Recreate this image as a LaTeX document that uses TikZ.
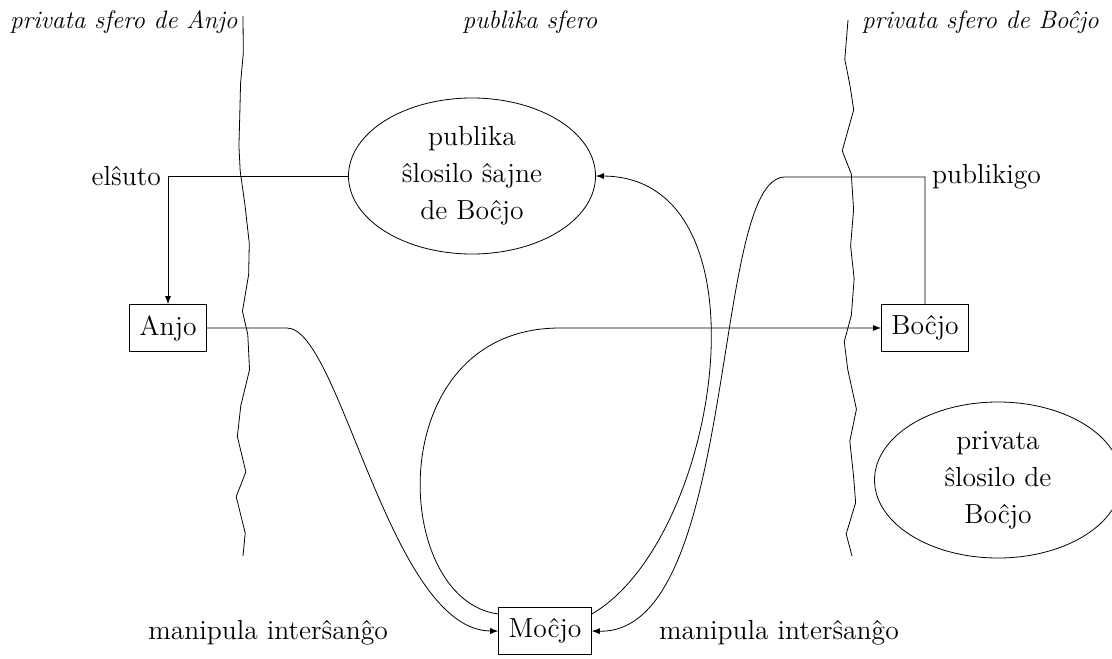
\documentclass[tikz,border=0pt]{standalone}
\usetikzlibrary{positioning}
\usetikzlibrary{arrows}
\usetikzlibrary{shapes.geometric}
\usetikzlibrary{decorations.pathmorphing}
\newcommand{\keyfont}{\fontsize{13.8}{18.5}\selectfont}
\newcommand{\spherefont}{\fontsize{12.6}{15}\selectfont\itshape}
\tikzset{
person/.style={draw,rectangle,inner xsep=5pt,minimum height=23.5pt,font=\keyfont},
keynode/.style={draw,ellipse,align=center,inner sep=0pt,minimum width=123.5pt,minimum height=78pt,font=\keyfont},
sphere/.style={font=\spherefont},
border/.style={decorate,decoration={random steps,segment length=16pt,amplitude=4pt}},
}

\begin{document}
\begin{tikzpicture}[x=0.5pt,y=-0.5pt,>=latex]
\tikzstyle{lbl}=[font=\keyfont]
\useasboundingbox (0,0) rectangle (1112,658);
%Place the nodes
\node[person] (Anjo) at (168,328) {Anjo};
\node[person] (Bocjo) at (925,328) {Boĉjo};
\node[person] (Mocjo) at (545,631) {Moĉjo};
\node[keynode] (pub) at (472,176) {publika\\ŝlosilo ŝajne\\de Boĉjo};
\node[keynode] (priv) at (998,480) {privata\\ŝlosilo de\\Boĉjo};

%The spheres
\node[sphere,anchor=west] (sA) at (3,22) {privata sfero de Anjo};
\node[sphere] (sP) at (530,22) {publika sfero};
\node[sphere,anchor=west] (sB) at (855,22) {privata sfero de Boĉjo};

\coordinate (lt) at (243,16);
\coordinate (lb) at (243,556);
\coordinate (rt) at (848,20);
\coordinate (rb) at (852,556);
\pgfmathsetseed{11}
\draw[border] (lt) -- (lb);
\draw[border] (rt) -- (rb);

%
\draw[->] (pub.west) -| node[pos=0.5,left,lbl] {elŝuto} (Anjo.north);
\draw[->] (Bocjo.north) |- node[pos=0.5,right,lbl] {publikigo} (785,177)
  .. controls (710,177) and (740,635) .. (Mocjo.east);

%
\draw[->] (Anjo.east) -- (287,328) .. controls (340,328) and (390,631) .. (Mocjo.west);
\draw[->] (Mocjo.160) .. controls (390,600) and (380,328) .. (560,328) -- (Bocjo.west);
\draw[->] (Mocjo.20) .. controls (720,540) and (775,177) .. (pub.east);

%
\node[lbl,anchor=east] (mA) at (395,633) {manipula interŝanĝo};
\node[lbl,anchor=west] (mB) at (652,633) {manipula interŝanĝo};

\end{tikzpicture}
\end{document}
